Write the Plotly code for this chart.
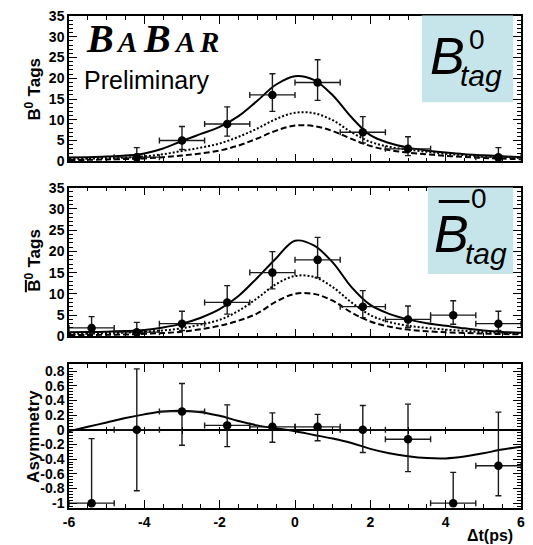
import plotly.graph_objects as go

# ---------------- data ----------------
bin_half = [0.6, 0.6, 0.6, 0.6, 0.6, 0.6, 0.6, 0.6, 0.6, 0.6]

# B0 tags (top)
top_x = [-4.2, -3.0, -1.8, -0.6, 0.6, 1.8, 3.0, 5.4]
top_n = [1, 5, 9, 16, 19, 7, 3, 1]
top_hi = [2.30, 3.38, 4.11, 5.10, 5.47, 3.77, 2.92, 2.30]
top_lo = [0.83, 2.16, 2.94, 3.96, 4.32, 2.58, 1.63, 0.83]

# B0bar tags (middle)
mid_x = [-5.4, -4.2, -3.0, -1.8, -0.6, 0.6, 1.8, 3.0, 4.2, 5.4]
mid_n = [2, 1, 3, 8, 15, 18, 7, 4, 5, 3]
mid_hi = [2.64, 2.30, 2.92, 3.94, 4.95, 5.29, 3.77, 3.16, 3.38, 2.92]
mid_lo = [1.29, 0.83, 1.63, 2.76, 3.82, 4.21, 2.58, 1.91, 2.16, 1.63]

# asymmetry (bottom)
asy_x = [-5.4, -4.2, -3.0, -1.8, -0.6, 0.6, 1.8, 3.0, 4.2, 5.4]
asy_v = [-1.0, 0.0, 0.25, 0.06, 0.04, 0.04, 0.0, -0.13, -1.0, -0.49]
asy_hi = [0.88, 0.83, 0.38, 0.28, 0.19, 0.17, 0.33, 0.48, 0.42, 0.73]
asy_lo = [0.0, 0.83, 0.46, 0.29, 0.21, 0.19, 0.31, 0.44, 0.0, 0.41]

# fitted curves
curve_x = [-6, -5.5, -5, -4.5, -4, -3.5, -3, -2.5, -2, -1.5, -1, -0.5, 0,
           0.5, 1, 1.5, 2, 2.5, 3, 3.5, 4, 4.5, 5, 5.5, 6]
top_solid = [0.9, 1.0, 1.15, 1.4, 1.9, 3.1, 4.9, 6.6, 8.3, 10.9, 14.6, 18.5, 20.5,
             19.6, 15.9, 10.6, 6.3, 4.4, 3.3, 2.6, 2.1, 1.7, 1.45, 1.2, 1.0]
top_dot = [0.6, 0.65, 0.75, 0.9, 1.2, 1.7, 2.5, 3.3, 4.3, 5.9, 7.9, 10.2, 11.7,
           11.6, 9.9, 7.0, 4.7, 3.5, 2.8, 2.3, 1.8, 1.5, 1.2, 1.0, 0.85]
top_dash = [0.3, 0.35, 0.45, 0.55, 0.7, 1.0, 1.4, 1.9, 2.6, 3.8, 5.5, 7.4, 8.6,
            8.5, 7.3, 5.4, 3.7, 2.7, 2.1, 1.7, 1.3, 1.05, 0.8, 0.65, 0.5]
mid_solid = [1.0, 1.05, 1.1, 1.25, 1.5, 2.1, 3.0, 4.4, 6.4, 9.5, 13.8, 18.4, 22.5,
             21.4, 17.4, 11.6, 7.4, 5.3, 4.0, 3.1, 2.5, 1.9, 1.4, 1.05, 0.85]
mid_dot = [0.6, 0.65, 0.75, 0.9, 1.1, 1.4, 1.9, 2.8, 3.9, 6.0, 9.0, 12.3, 14.2,
           14.0, 11.6, 8.0, 5.0, 3.4, 2.5, 2.0, 1.6, 1.3, 1.0, 0.85, 0.75]
mid_dash = [0.3, 0.32, 0.38, 0.45, 0.6, 0.8, 1.1, 1.7, 2.5, 3.7, 5.4, 8.2, 10.0,
            10.0, 8.4, 5.6, 3.5, 2.3, 1.6, 1.2, 0.95, 0.8, 0.65, 0.55, 0.5]
asy_curve = [-0.02, 0.04, 0.10, 0.16, 0.21, 0.25, 0.26, 0.24, 0.19, 0.12, 0.06, 0.02, -0.02,
             -0.07, -0.12, -0.18, -0.26, -0.32, -0.36, -0.385, -0.39, -0.365, -0.32, -0.27, -0.23]

x_tickvals = [-6, -4, -2, 0, 2, 4, 6]
x_ticktext = ["-6", "-4", "-2", "0", "2", "4", "6"]
n_tickvals = [0, 5, 10, 15, 20, 25, 30, 35]
a_tickvals = [-1, -0.8, -0.6, -0.4, -0.2, 0, 0.2, 0.4, 0.6, 0.8]
a_ticktext = ["-1", "-0.8", "-0.6", "-0.4", "-0.2", "0", "0.2", "0.4", "0.6", "0.8"]

# ---------------- geometry helpers (pixels -> paper) ----------------
W, H = 533, 545
L, R, T, B = 69, 525, 12, 508


def fx(px):
    return (px - L) / (R - L)


def fy(py):
    return (B - py) / (B - T)


FONT = "Liberation Sans"
fig = go.Figure()


def add_points(x, y, hi, lo, xa, ya):
    fig.add_trace(go.Scatter(
        x=x, y=y, mode="markers", xaxis=xa, yaxis=ya,
        marker=dict(color="black", size=8.5, symbol="circle"),
        error_y=dict(type="data", symmetric=False, array=hi, arrayminus=lo,
                     color="#1a1a1a", thickness=1.4, width=3),
        error_x=dict(type="data", array=bin_half[:len(x)], color="#1a1a1a",
                     thickness=1.4, width=3),
        showlegend=False, hoverinfo="skip"))


def add_curve(y, xa, ya, dash, width=2):
    fig.add_trace(go.Scatter(
        x=curve_x, y=y, mode="lines", xaxis=xa, yaxis=ya,
        line=dict(color="black", width=width, dash=dash, shape="spline", smoothing=1.0),
        showlegend=False, hoverinfo="skip"))


add_curve(top_dash, "x", "y", "6px,3px")
add_curve(top_dot, "x", "y", "2px,2px")
add_curve(top_solid, "x", "y", "solid")
add_points(top_x, top_n, top_hi, top_lo, "x", "y")

add_curve(mid_dash, "x2", "y2", "6px,3px")
add_curve(mid_dot, "x2", "y2", "2px,2px")
add_curve(mid_solid, "x2", "y2", "solid")
add_points(mid_x, mid_n, mid_hi, mid_lo, "x2", "y2")

add_curve(asy_curve, "x3", "y3", "solid")
add_points(asy_x, asy_v, asy_hi, asy_lo, "x3", "y3")

# empty traces so the zero-line tick axes are drawn
for xa in ("x4", "x5"):
    fig.add_trace(go.Scatter(x=[None], y=[None], xaxis=xa, yaxis="y3",
                             showlegend=False, hoverinfo="skip"))

tickfont = dict(family=FONT, size=14, color="black", weight="bold")

common_x = dict(range=[-6, 6], showgrid=False, zeroline=False, showline=True,
                linecolor="black", linewidth=1.5, mirror="ticks", ticks="inside",
                ticklen=8, tickwidth=1, tickcolor="black",
                tickmode="array", tickvals=x_tickvals, ticktext=x_ticktext,
                minor=dict(tickmode="linear", tick0=0, dtick=0.5, ticklen=4,
                           ticks="inside", tickcolor="black", tickwidth=1),
                tickfont=tickfont)
common_n = dict(range=[0, 35], showgrid=False, zeroline=False, showline=True,
                linecolor="black", linewidth=1.5, mirror="ticks", ticks="inside",
                ticklen=8, tickwidth=1, tickcolor="black",
                tickmode="array", tickvals=n_tickvals,
                minor=dict(tickmode="linear", tick0=0, dtick=1, ticklen=4,
                           ticks="inside", tickcolor="black", tickwidth=1),
                tickfont=tickfont)

a_lo, a_hi = -1.066, 0.89
bot_top = fy(363.3)
zero_pos = bot_top * (0 - a_lo) / (a_hi - a_lo)

fig.update_layout(
    width=W, height=H, autosize=False,
    margin=dict(l=L, r=W - R, t=T, b=H - B, pad=0),
    paper_bgcolor="white", plot_bgcolor="white",
    font=dict(family=FONT, color="black"),
    xaxis=dict(common_x, anchor="y", domain=[0, 1], showticklabels=False),
    xaxis2=dict(common_x, anchor="y2", domain=[0, 1], showticklabels=False),
    xaxis3=dict(common_x, anchor="y3", domain=[0, 1], showticklabels=True),
    xaxis4=dict(overlaying="x3", anchor="free", position=zero_pos, side="bottom",
                range=[-6, 6], ticks="inside", ticklen=3, tick0=0, dtick=1,
                tickcolor="black", showticklabels=False, showline=False,
                showgrid=False, zeroline=False),
    xaxis5=dict(overlaying="x3", anchor="free", position=zero_pos, side="top",
                range=[-6, 6], ticks="inside", ticklen=3, tick0=0, dtick=1,
                tickcolor="black", showticklabels=False, showline=False,
                showgrid=False, zeroline=False),
    yaxis=dict(common_n, anchor="x", domain=[fy(158.5), 1.0]),
    yaxis2=dict(common_n, anchor="x2", domain=[fy(335), fy(185)]),
    yaxis3=dict(range=[a_lo, a_hi], anchor="x3", domain=[0, bot_top],
                showgrid=False, zeroline=True, zerolinecolor="black", zerolinewidth=1.5,
                showline=True, linecolor="black", linewidth=1.5, mirror="ticks",
                ticks="inside", ticklen=8, tickwidth=1, tickcolor="black",
                tickmode="array", tickvals=a_tickvals, ticktext=a_ticktext,
                minor=dict(tickmode="linear", tick0=0, dtick=0.04, ticklen=4,
                           ticks="inside", tickcolor="black", tickwidth=1),
                tickfont=tickfont),
)

# label boxes
BOX = "#c6e5ea"
fig.add_shape(type="rect", xref="paper", yref="paper", x0=fx(425), x1=fx(517),
              y0=fy(99), y1=fy(11.5), fillcolor=BOX, line=dict(width=0), layer="above")
fig.add_shape(type="rect", xref="paper", yref="paper", x0=fx(431), x1=fx(517),
              y0=fy(272), y1=fy(185), fillcolor=BOX, line=dict(width=0), layer="above")
fig.add_shape(type="line", xref="paper", yref="paper", x0=fx(442), x1=fx(473),
              y0=fy(199), y1=fy(199), line=dict(color="black", width=3), layer="above")
# bar over the B of the middle y title
fig.add_shape(type="line", xref="paper", yref="paper", x0=fx(25.5), x1=fx(25.5),
              y0=fy(290.5), y1=fy(278), line=dict(color="black", width=2), layer="above")

ann = []


def text(s, px, py, size, xanchor="left", yanchor="middle", angle=0, family=FONT,
         weight="normal", style="normal"):
    ann.append(dict(text=s, x=fx(px), y=fy(py), xref="paper", yref="paper",
                    xanchor=xanchor, yanchor=yanchor, textangle=angle, showarrow=False,
                    borderpad=0, font=dict(family=family, size=size, color="black",
                                           weight=weight, style=style)))


# box texts
text("B", 432, 52.5, 52, style="italic")
text("0", 472, 35.5, 28)
text("tag", 462, 71.5, 30, style="italic")
text("B", 436, 232, 52, style="italic")
text("0", 474, 195.5, 28)
text("tag", 467, 251.5, 30, style="italic")

# BaBar logo
SERIF = "Liberation Serif"
text("B", 100, 34.5, 40, xanchor="center", family=SERIF, weight="bold", style="italic")
text("A", 127, 38.2, 29, xanchor="center", family=SERIF, weight="bold", style="italic")
text("B", 158, 34.5, 40, xanchor="center", family=SERIF, weight="bold", style="italic")
text("A", 186, 38.2, 29, xanchor="center", family=SERIF, weight="bold", style="italic")
text("R", 210, 38.2, 29, xanchor="center", family=SERIF, weight="bold", style="italic")
text("Preliminary", 83, 76.5, 25)

# axis titles (rotated, read bottom-to-top: B, superscript 0, Tags)
text("B", 34.6, 111.5, 17, xanchor="center", angle=-90, weight="bold")
text("0", 28.8, 102, 12, xanchor="center", angle=-90, weight="bold")
text("Tags", 34.6, 74, 17, xanchor="center", angle=-90, weight="bold")
text("B", 34.6, 284, 17, xanchor="center", angle=-90, weight="bold")
text("0", 28.8, 274.5, 12, xanchor="center", angle=-90, weight="bold")
text("Tags", 34.6, 246.5, 17, xanchor="center", angle=-90, weight="bold")
text("Asymmetry", 33, 436, 17, xanchor="center", angle=-90, weight="bold")
text("\u0394t(ps)", 518, 536, 16, xanchor="right", weight="bold")

fig.update_layout(annotations=ann)
fig.write_html("out.html")
